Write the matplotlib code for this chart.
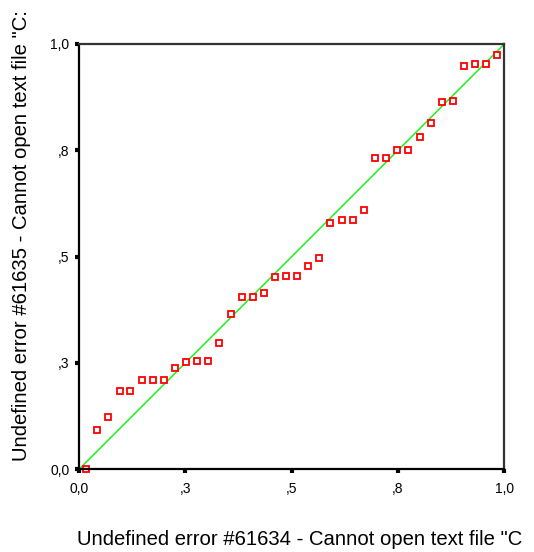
import matplotlib
matplotlib.use("Agg")
import matplotlib.pyplot as plt

# Observed cumulative probability (x) vs expected cumulative probability (y)
observed_cum_prob = [0.016, 0.042, 0.069, 0.096, 0.121, 0.147, 0.174, 0.200,
                     0.226, 0.252, 0.278, 0.304, 0.330, 0.357, 0.383, 0.409,
                     0.435, 0.461, 0.487, 0.513, 0.539, 0.565, 0.591, 0.618,
                     0.644, 0.670, 0.696, 0.722, 0.748, 0.774, 0.801, 0.827,
                     0.853, 0.879, 0.905, 0.931, 0.958, 0.984]
expected_cum_prob = [0.001, 0.092, 0.122, 0.184, 0.184, 0.211, 0.211, 0.211,
                     0.238, 0.252, 0.255, 0.255, 0.296, 0.365, 0.404, 0.404,
                     0.414, 0.451, 0.455, 0.455, 0.479, 0.496, 0.578, 0.585,
                     0.585, 0.609, 0.733, 0.733, 0.750, 0.750, 0.781, 0.815,
                     0.864, 0.867, 0.949, 0.952, 0.952, 0.973]

tick_values = [0.0, 0.25, 0.5, 0.75, 1.0]
tick_labels = ["0,0", ",3", ",5", ",8", "1,0"]

x_title = 'Undefined error #61634 - Cannot open text file "C'
y_title = 'Undefined error #61635 - Cannot open text file "C:'

plt.rcParams["font.family"] = ["Liberation Sans", "DejaVu Sans"]

W, H = 534, 552
fig = plt.figure(figsize=(W / 100, H / 100), dpi=100)
ax = fig.add_axes([79 / W, (H - 469.3) / H, 425.3 / W, 425.3 / H])

ax.plot([0, 1], [0, 1], color="#1ff01f", lw=1.1, zorder=2)
ax.plot(observed_cum_prob, expected_cum_prob, ls="none", marker="s",
        ms=4.2, mfc="white", mec="#ff0000", mew=1.3, zorder=3, clip_on=False)

ax.set_xlim(0, 1)
ax.set_ylim(0, 1)
ax.set_xticks(tick_values)
ax.set_xticklabels(tick_labels)
ax.set_yticks(tick_values)
ax.set_yticklabels(tick_labels)
ax.tick_params(direction="out", length=3, width=3, color="black",
               labelsize=10, pad=6)
ax.tick_params(axis="y", pad=4)

for side in ("left", "bottom"):
    ax.spines[side].set_color("black")
    ax.spines[side].set_linewidth(1.6)
for side in ("top", "right"):
    ax.spines[side].set_color("#333333")
    ax.spines[side].set_linewidth(1.6)
for s in ax.spines.values():
    s.set_zorder(4)

fig.text(77 / W, 1 - 545 / H, x_title, ha="left", va="baseline",
         fontsize=14.6)
fig.text(22 / W, 1 - 461 / H, y_title, ha="center", va="bottom",
         rotation=90, fontsize=14.6)

fig.savefig("out.png", dpi=100, facecolor="white")
